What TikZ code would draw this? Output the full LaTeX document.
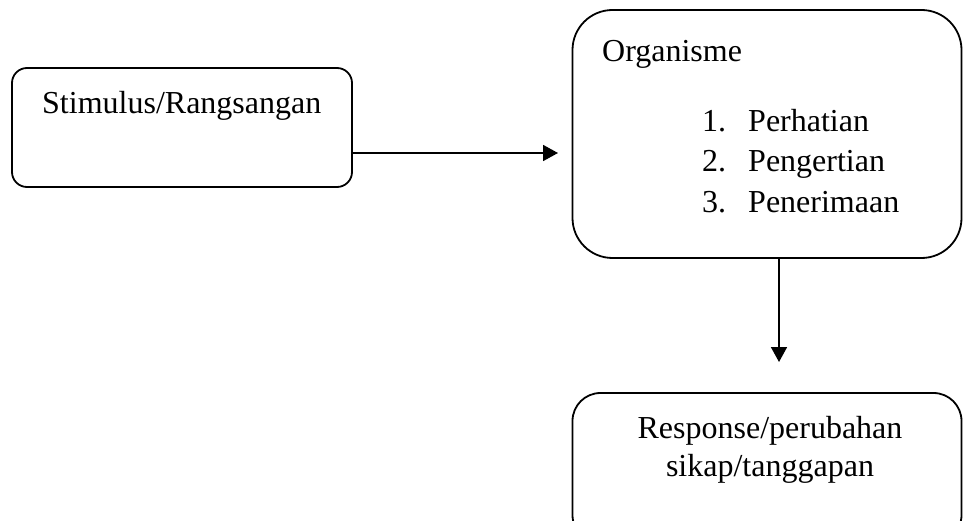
\documentclass[tikz,border=0pt]{standalone}
\usepackage{fontspec}
\setmainfont{Liberation Serif}
\usetikzlibrary{arrows.meta}
\tikzset{
  box/.style={draw, line width=1.8pt, inner sep=0pt},
  txt/.style={inner sep=0pt, anchor=base west, font=\fontsize{32}{40}\selectfont},
  link/.style={line width=1.8pt, -{Triangle[length=15pt, width=16pt]}}
}

\begin{document}
\begin{tikzpicture}[x=1pt, y=-1pt]
\useasboundingbox (0,0) rectangle (963,521);
\clip (0,0) rectangle (963,521);
% Boxes
    \node[box, rounded corners=15pt, minimum width=340pt, minimum height=119pt] (stim) at (182,127.5) {};
    \node[box, rounded corners=40pt, minimum width=389pt, minimum height=248pt] (org) at (767,134) {};
    \node[box, rounded corners=28pt, minimum width=389pt, minimum height=150pt] (resp) at (767,468) {};
% Texts
    \node[txt] (stimtxt) at (42,114) {Stimulus/Rangsangan};
    \node[txt] (orgtxt) at (602,62) {Organisme};
    \node[txt] (num1) at (702,132) {1.};
    \node[txt] (item1) at (748,132) {Perhatian};
    \node[txt] (num2) at (702,172) {2.};
    \node[txt] (item2) at (748,172) {Pengertian};
    \node[txt] (num3) at (702,213) {3.};
    \node[txt] (item3) at (748,213) {Penerimaan};
    \node[txt, anchor=base] (resp1) at (770,438) {Response/perubahan};
    \node[txt, anchor=base] (resp2) at (770,476) {sikap/tanggapan};
% Arrows
    \coordinate (tipA) at (558,153);
    \coordinate (tipB) at (779,362);
    \draw[link] (stim.east |- tipA) -- (tipA);
    \draw[link] (org.south -| tipB) -- (tipB);
\end{tikzpicture}
\end{document}
